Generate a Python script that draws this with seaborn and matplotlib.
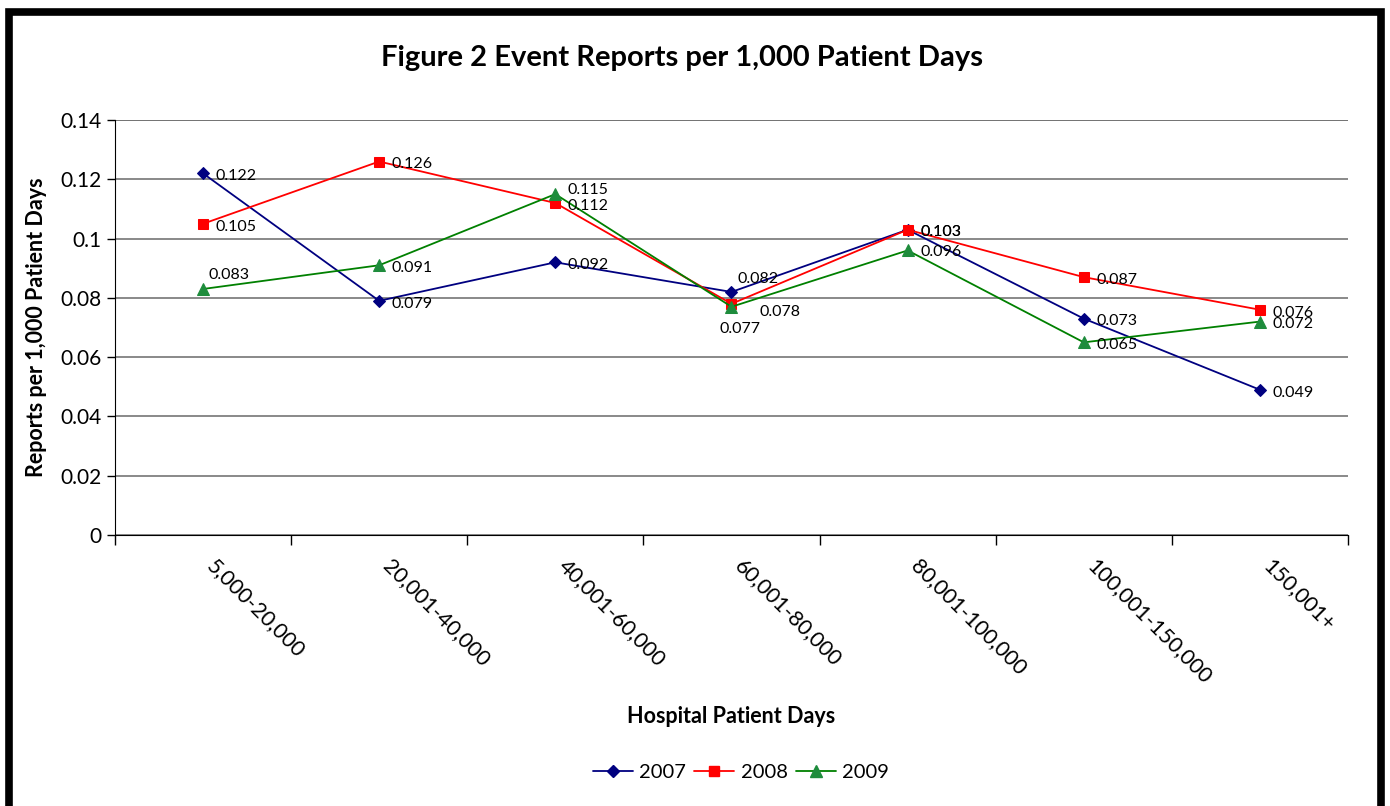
import pandas as pd
import seaborn as sns
import matplotlib.pyplot as plt
from matplotlib.patches import Rectangle
from matplotlib.lines import Line2D

categories = ["5,000-20,000", "20,001-40,000", "40,001-60,000", "60,001-80,000",
              "80,001-100,000", "100,001-150,000", "150,001+"]
years = ["2007", "2008", "2009"]
rates_2007 = [0.122, 0.079, 0.092, 0.082, 0.103, 0.073, 0.049]
rates_2008 = [0.105, 0.126, 0.112, 0.078, 0.103, 0.087, 0.076]
rates_2009 = [0.083, 0.091, 0.115, 0.077, 0.096, 0.065, 0.072]

rows = []
for yr, vals in zip(years, [rates_2007, rates_2008, rates_2009]):
    for cat, v in zip(categories, vals):
        rows.append({"range": cat, "rate": v, "year": yr})
df = pd.DataFrame(rows)

sns.set_style("white")
plt.rcParams["font.family"] = ["Lato", "DejaVu Sans"]
plt.rcParams["text.color"] = "black"
plt.rcParams["axes.labelcolor"] = "black"
plt.rcParams["xtick.color"] = "black"
plt.rcParams["ytick.color"] = "black"

colors = {"2007": "#000080", "2008": "#FF0000", "2009": "#008000"}
face = {"2007": "#000080", "2008": "#FF0000", "2009": "#1E8C3C"}
markers = {"2007": "D", "2008": "s", "2009": "^"}
msize = {"2007": 6, "2008": 7, "2009": 8}

fig = plt.figure(figsize=(13.9, 8.06), dpi=100)
ax = fig.add_axes([0.0827, 0.3362, 0.8871, 0.5149])

for yr in years:
    sub = df[df["year"] == yr]
    sns.lineplot(data=sub, x="range", y="rate", color=colors[yr], marker=markers[yr],
                 markersize=msize[yr], markerfacecolor=face[yr], markeredgecolor=face[yr],
                 linewidth=1.3, ax=ax, legend=False, sort=False)

# data labels (offset in points, alignment)
default_off = (9, -2, "left", "center")
special = {("2009", 0): (4, 10, "left", "center"),
           ("2007", 3): (4, 9, "left", "center"),
           ("2009", 3): (6, -16, "center", "center"),
           ("2008", 3): (20, -6, "left", "center"),
           ("2009", 2): (9, 3, "left", "center"),
           ("2009", 4): (9, -1, "left", "center")}
for yr, vals in zip(years, [rates_2007, rates_2008, rates_2009]):
    for i, v in enumerate(vals):
        dx, dy, ha, va = special.get((yr, i), default_off)
        ax.annotate(f"{v:.3f}", (i, v), xytext=(dx, dy), textcoords="offset points",
                    ha=ha, va=va, fontsize=11.5, color="black")

ax.set_xlim(-0.5, len(categories) - 0.5)
ax.set_ylim(0, 0.14)
ax.set_yticks([0, 0.02, 0.04, 0.06, 0.08, 0.1, 0.12, 0.14])
ax.set_yticklabels(["0", "0.02", "0.04", "0.06", "0.08", "0.1", "0.12", "0.14"], fontsize=15)
ax.yaxis.grid(True, color="#808080", linewidth=1.3)
ax.set_axisbelow(True)
for s in ["top", "right"]:
    ax.spines[s].set_visible(False)
ax.spines["left"].set_color("black")
ax.spines["bottom"].set_color("black")
ax.axhline(0.14, color="black", linewidth=1.3, zorder=0)

# category boundary ticks
ax.set_xticks([i - 0.5 for i in range(len(categories) + 1)])
ax.set_xticklabels([])
ax.tick_params(axis="x", direction="out", length=7, width=1, color="black", bottom=True)
ax.tick_params(axis="y", direction="out", length=6, width=1, color="black", left=True)
for i, cat in enumerate(categories):
    ax.annotate(cat, (i, 0), xytext=(5, -20), textcoords="offset points",
                rotation=-45, rotation_mode="anchor", ha="left", va="center",
                fontsize=15.5, annotation_clip=False)

ax.set_xlabel("")
ax.set_ylabel("Reports per 1,000 Patient Days", fontsize=15.5, fontweight="bold", labelpad=10)
fig.text(0.526, 0.111, "Hospital Patient Days", ha="center", va="center",
         fontsize=15.5, fontweight="bold")
fig.text(0.491, 0.928, "Figure 2 Event Reports per 1,000 Patient Days", ha="center",
         va="center", fontsize=21, fontweight="bold")

handles = [Line2D([0], [0], color=colors[yr], marker=markers[yr], markersize=msize[yr],
                  markerfacecolor=face[yr], markeredgecolor=face[yr], linewidth=1.3)
           for yr in years]
fig.legend(handles, years, loc="center", bbox_to_anchor=(0.533, 0.042), ncol=3,
           frameon=False, fontsize=14.5, handlelength=2.0, columnspacing=0.4,
           handletextpad=0.3)

fig.patches.append(Rectangle((0.0062, -0.002), 0.9876, 0.9876, transform=fig.transFigure,
                             fill=False, edgecolor="black", linewidth=5.5))

fig.savefig("out.png", dpi=100)
